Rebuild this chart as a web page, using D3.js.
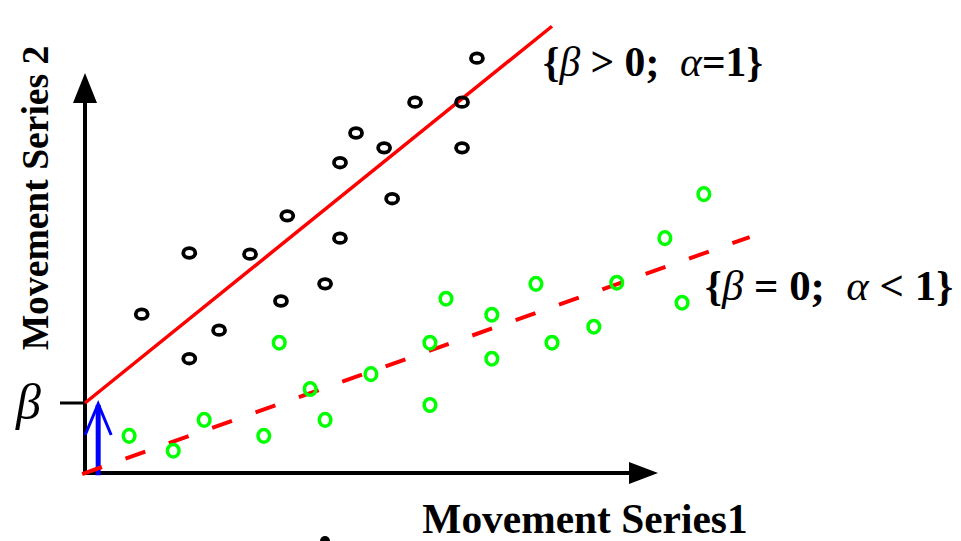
<!DOCTYPE html>
<html>
<head>
<meta charset="utf-8">
<script src="https://cdn.jsdelivr.net/npm/d3@7"></script>
<style>
  body { margin: 0; background: #fff; }
  svg { display: block; font-family: "Liberation Serif", "Times New Roman", serif; }
</style>
</head>
<body>
<div id="chart"></div>
<script>
// values (arbitrary units, origin at the axes corner)
const blackX = [0.99, 1.82, 1.82, 2.34, 2.88, 3.42, 3.53, 4.19, 4.45, 4.45, 4.73, 5.22, 5.36, 5.76, 6.58, 6.58, 6.84];
const blackY = [2.78, 3.85, 2.00, 2.50, 3.83, 3.01, 4.50, 3.31, 4.11, 5.43, 5.95, 5.69, 4.80, 6.49, 6.49, 5.69, 7.26];

const greenX = [10.80, 10.12, 7.87, 9.28, 6.30, 7.10, 10.42, 8.88, 3.39, 6.02, 8.15, 7.10, 4.99, 3.93, 6.02, 2.08, 4.19, 0.77, 3.12, 1.54];
const greenY = [4.88, 4.11, 3.31, 3.33, 3.05, 2.77, 2.98, 2.56, 2.28, 2.28, 2.28, 2.00, 1.73, 1.47, 1.19, 0.93, 0.93, 0.65, 0.65, 0.39];

// fitted lines: y = beta + slope * x
const betaValue = 1.225;
const fitSolid = { beta: betaValue, slope: 0.809, xEnd: 8.15 };
const fitDashed = { beta: 0, slope: 0.356, xStart: -0.05, xEnd: 11.6 };

const labelSolid = [["{", "b"], ["β", "i"], [" > 0;  ", "b"], ["α", "i"], ["=1}", "b"]];
const labelDashed = [["{", "b"], ["β", "i"], [" = 0;  ", "b"], ["α", "i"], [" < 1}", "b"]];
const xTitle = "Movement Series1";
const yTitle = "Movement Series 2";

const width = 961, height = 541;

const svg = d3.select("#chart").append("svg")
    .attr("width", width)
    .attr("height", height);

const x = d3.scaleLinear().domain([0, 10]).range([85, 658]);
const y = d3.scaleLinear().domain([0, 7]).range([473, 73]);

// shrink/grow a text element's font so it spans the wanted width
function fitWidth(sel, target) {
    const fs = +sel.attr("font-size");
    const w = sel.node().getComputedTextLength();
    sel.attr("font-size", (fs * target / w).toFixed(1));
}

// axes with arrow heads
const axisG = svg.append("g").attr("class", "axes");
axisG.append("line")
    .attr("x1", x(0)).attr("x2", x(0))
    .attr("y1", y(0) + 2).attr("y2", y.range()[1] + 20)
    .attr("stroke", "#000").attr("stroke-width", 4);
axisG.append("line")
    .attr("x1", x(0) - 2).attr("x2", x.range()[1] - 20)
    .attr("y1", y(0)).attr("y2", y(0))
    .attr("stroke", "#000").attr("stroke-width", 4);

const yTip = y.range()[1];
axisG.append("path")
    .attr("d", `M${x(0)},${yTip} L${x(0) - 12},${yTip + 30} L${x(0) + 12},${yTip + 30} Z`)
    .attr("fill", "#000");
const xTip = x.range()[1];
axisG.append("path")
    .attr("d", `M${xTip},${y(0)} L${xTip - 29},${y(0) - 11} L${xTip - 29},${y(0) + 11} Z`)
    .attr("fill", "#000");

// beta tick + label
axisG.append("line")
    .attr("x1", x(0) - 25).attr("x2", x(0))
    .attr("y1", y(betaValue)).attr("y2", y(betaValue))
    .attr("stroke", "#000").attr("stroke-width", 3);
svg.append("text")
    .attr("x", 16).attr("y", y(betaValue) + 16)
    .attr("font-size", 50)
    .attr("font-style", "italic")
    .text("β");

// blue arrow showing beta
const arrowX = x(0.23);
svg.append("line")
    .attr("x1", arrowX).attr("x2", arrowX)
    .attr("y1", y(-0.04)).attr("y2", y(betaValue) + 2)
    .attr("stroke", "#0000ff").attr("stroke-width", 5);
svg.append("path")
    .attr("d", `M${arrowX - 13},${y(0.665)} L${arrowX},${y(betaValue) + 1} L${arrowX + 13},${y(0.665)}`)
    .attr("fill", "none")
    .attr("stroke", "#0000ff").attr("stroke-width", 3);

// fitted lines
svg.append("line")
    .attr("x1", x(0)).attr("y1", y(fitSolid.beta))
    .attr("x2", x(fitSolid.xEnd)).attr("y2", y(fitSolid.beta + fitSolid.slope * fitSolid.xEnd))
    .attr("stroke", "#ff0000").attr("stroke-width", 3.5);

svg.append("line")
    .attr("x1", x(fitDashed.xStart)).attr("y1", y(fitDashed.beta + fitDashed.slope * fitDashed.xStart))
    .attr("x2", x(fitDashed.xEnd)).attr("y2", y(fitDashed.beta + fitDashed.slope * fitDashed.xEnd))
    .attr("stroke", "#ff0000").attr("stroke-width", 4)
    .attr("stroke-dasharray", "21,25");

// scatter points
svg.append("g").selectAll("ellipse")
    .data(d3.zip(blackX, blackY))
    .join("ellipse")
    .attr("cx", d => x(d[0]))
    .attr("cy", d => y(d[1]))
    .attr("rx", 6).attr("ry", 4.8)
    .attr("fill", "none")
    .attr("stroke", "#000").attr("stroke-width", 3.8);

svg.append("g").selectAll("ellipse")
    .data(d3.zip(greenX, greenY))
    .join("ellipse")
    .attr("cx", d => x(d[0]))
    .attr("cy", d => y(d[1]))
    .attr("rx", 5.8).attr("ry", 6.3)
    .attr("fill", "none")
    .attr("stroke", "#00ff00").attr("stroke-width", 3.5);

// annotations
function mathLabel(parts, px, py, targetWidth) {
    const t = svg.append("text")
        .attr("x", px).attr("y", py)
        .attr("font-size", 40)
        .attr("xml:space", "preserve")
        .style("white-space", "pre");
    parts.forEach(p => {
        t.append("tspan")
            .attr("font-weight", p[1] == "b" ? "bold" : "normal")
            .attr("font-style", p[1] == "i" ? "italic" : "normal")
            .text(p[0]);
    });
    fitWidth(t, targetWidth);
}
mathLabel(labelSolid, 543, 76, 220);
mathLabel(labelDashed, 705, 300, 248);

const xt = svg.append("text")
    .attr("x", 585).attr("y", 533)
    .attr("text-anchor", "middle")
    .attr("font-size", 40)
    .attr("font-weight", "bold")
    .text(xTitle);
fitWidth(xt, 325);

const yt = svg.append("text")
    .attr("transform", "translate(48,198) rotate(-90)")
    .attr("text-anchor", "middle")
    .attr("font-size", 38)
    .attr("font-weight", "bold")
    .text(yTitle);
fitWidth(yt, 305);

// stray dot at the bottom edge
svg.append("circle")
    .attr("cx", 325).attr("cy", 541)
    .attr("r", 5)
    .attr("fill", "#000");
</script>
</body>
</html>
